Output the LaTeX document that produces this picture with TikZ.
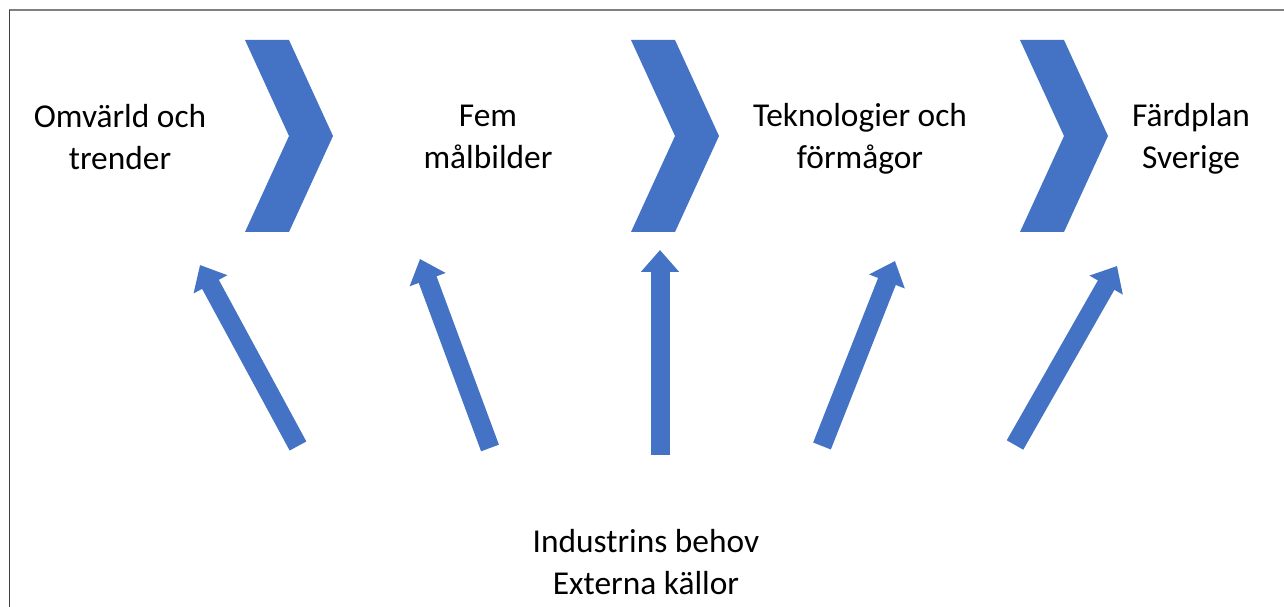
\documentclass[tikz,border=0pt]{standalone}
\usepackage{fontspec}
\setmainfont{Carlito}
\usetikzlibrary{arrows.meta}
\definecolor{stageblue}{RGB}{68,114,196}

\begin{document}
\begin{tikzpicture}[
      x=0.02cm, y=-0.02cm,
      lbl/.style={align=center, font=\fontsize{19}{24}\selectfont},
      stage/.style={fill=stageblue},
      feed/.style={stageblue, line width=0.38cm, -{Triangle[width=0.74cm, length=0.44cm]}},
      frame/.style={line width=0.04cm}
    ]
    \useasboundingbox (0,0) rectangle (1284,607);
    \draw[frame, gray] (9,10.5) -- (1284,10.5);
    \draw[frame, black!75] (9.5,10) -- (9.5,607);

    % chevrons
    \foreach \cx in {245,631,1020}
      \fill[stage] (\cx,40) -- ++(44,0) -- ++(44,96) -- ++(-44,96) -- ++(-44,0) -- ++(44,-96) -- cycle;

    \node[lbl] (omv) at (120,137) {Omvärld och\\trender};
    \node[lbl] (fem) at (488,137) {Fem\\målbilder};
    \node[lbl] (tekn) at (860,139) {Teknologier och\\förmågor};
    \node[lbl] (fard) at (1191,139) {Färdplan\\Sverige};
    \node[lbl] (ind) at (646,562) {Industrins behov\\Externa källor};

    % block arrows
    \coordinate (t1) at (298,446); \coordinate (h1) at (200,265);
    \coordinate (t2) at (490,448); \coordinate (h2) at (420,259);
    \coordinate (t3) at (660,455); \coordinate (h3) at (660,250);
    \coordinate (t4) at (822,446); \coordinate (h4) at (895,261);
    \coordinate (t5) at (1015,445); \coordinate (h5) at (1117,266);
    \draw[feed] (t1) -- (h1);
    \draw[feed] (t2) -- (h2);
    \draw[feed] (t3) -- (h3);
    \draw[feed] (t4) -- (h4);
    \draw[feed] (t5) -- (h5);
  \end{tikzpicture}
\end{document}
